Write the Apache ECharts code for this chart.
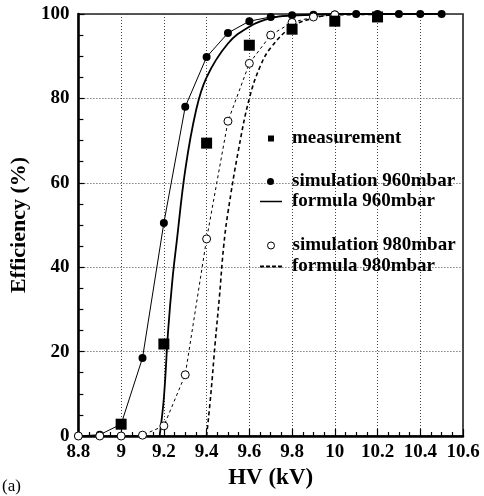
<!DOCTYPE html>
<html>
<head>
<meta charset="utf-8">
<script src="https://cdn.jsdelivr.net/npm/echarts@6/dist/echarts.min.js"></script>
<style>html,body{margin:0;padding:0;background:#fff}#c{width:484px;height:496px}</style>
</head>
<body>
<div id="c"></div>
<script>
// ---- data ----
const xTicks = [8.8, 9, 9.2, 9.4, 9.6, 9.8, 10, 10.2, 10.4, 10.6];
const yTicks = [0, 20, 40, 60, 80, 100];

const measHV  = [9.0, 9.2, 9.4, 9.6, 9.8, 10.0, 10.2];
const measEff = [2.8, 21.8, 69.4, 92.6, 96.4, 98.3, 99.3];

const sim960HV  = [8.8, 8.9, 9.0, 9.1, 9.2, 9.3, 9.4, 9.5, 9.6, 9.7, 9.8, 9.9, 10.0, 10.1, 10.2, 10.3, 10.4, 10.5];
const sim960Eff = [0, 0.3, 2.8, 18.5, 50.5, 78.0, 89.8, 95.5, 98.3, 99.3, 99.7, 99.8, 99.9, 100, 100, 100, 100, 100];

const form960HV  = [9.18, 9.2, 9.22, 9.24, 9.26, 9.3, 9.35, 9.4, 9.5, 9.6, 9.7, 9.8, 10.0, 10.5];
const form960Eff = [0, 9, 25, 37, 46, 63, 77, 85, 93, 97, 99, 99.6, 100, 100];

const sim980HV  = [8.8, 8.9, 9.0, 9.1, 9.2, 9.3, 9.4, 9.5, 9.6, 9.7, 9.8, 9.9, 10.0];
const sim980Eff = [0, 0, 0, 0.2, 2.4, 14.5, 46.7, 74.6, 88.3, 95.0, 98.0, 99.3, 99.8];

const form980HV  = [9.4, 9.42, 9.44, 9.46, 9.48, 9.5, 9.55, 9.6, 9.65, 9.7, 9.8, 9.9, 10.0, 10.5];
const form980Eff = [0, 10, 22, 33, 45, 53, 68, 80, 87.5, 92, 97, 99, 99.8, 100];

const names = ['measurement', 'simulation 960mbar', 'formula 960mbar', 'simulation 980mbar', 'formula 980mbar'];

const pair = (xs, ys) => xs.map((x, i) => [x, ys[i]]);

const FONT = 'Liberation Serif';
const legendText = { fontFamily: FONT, fontWeight: 'bold', fontSize: 19, color: '#000' };

function legendItem(name, top, left, icon, w, h, itemStyle, padLeft) {
  return {
    show: true, selectedMode: false, orient: 'horizontal', padding: 0,
    left: left, top: top, itemWidth: w, itemHeight: h,
    textStyle: Object.assign({}, legendText, { padding: [0, 0, 0, padLeft] }),
    data: [{ name: name, icon: icon, itemStyle: itemStyle }]
  };
}

const chart = echarts.init(document.getElementById('c'), null, { renderer: 'canvas' });
chart.setOption({
  animation: false,
  backgroundColor: '#fff',
  title: {
    text: '(a)', left: 2, top: 478, padding: 0,
    textStyle: { fontFamily: FONT, fontWeight: 'normal', fontSize: 17, color: '#000' }
  },
  grid: {
    left: 77, right: 21, top: 14, bottom: 60,
    show: true, borderColor: '#222', borderWidth: 1.6, backgroundColor: 'transparent'
  },
  legend: [
    legendItem(names[0], 129, 268, 'rect', 6, 6, { color: '#000', opacity: 1 }, 13),
    legendItem(names[1], 172, 267, 'circle', 7, 7, { color: '#000' }, 13),
    legendItem(names[2], 192, 260, 'rect', 22, 1.5, { color: '#000' }, 5),
    legendItem(names[3], 236, 267, 'circle', 7, 7, { color: '#fff', borderColor: '#000', borderWidth: 1 }, 13),
    legendItem(names[4], 257, 260, 'path://M0,0H4V2H0Z M6,0H10V2H6Z M12,0H16V2H12Z M18,0H22V2H18Z', 22, 2, { color: '#000' }, 5)
  ],
  xAxis: {
    type: 'value', min: 8.8, max: 10.6, interval: 0.2,
    name: 'HV (kV)', nameLocation: 'middle', nameGap: 30,
    nameTextStyle: { fontFamily: FONT, fontWeight: 'bold', fontSize: 23, color: '#000' },
    axisLine: { show: true, onZero: false, lineStyle: { color: '#000', width: 2.5 } },
    axisTick: { show: true, inside: true, length: 7, lineStyle: { color: '#000', width: 1.2 } },
    minorTick: { show: true, splitNumber: 4, length: 4, lineStyle: { color: '#000', width: 1.2 } },
    axisLabel: {
      fontFamily: FONT, fontWeight: 'bold', fontSize: 19, color: '#000', margin: 7,
      customValues: xTicks, formatter: v => String(+v.toFixed(1))
    },
    splitLine: { show: true, lineStyle: { color: '#444', width: 1, type: [1, 2] } }
  },
  yAxis: {
    type: 'value', min: 0, max: 100, interval: 20,
    name: 'Efficiency (%)', nameLocation: 'middle', nameGap: 44, nameRotate: 90,
    nameTextStyle: { fontFamily: FONT, fontWeight: 'bold', fontSize: 22, color: '#000' },
    axisLine: { show: true, onZero: false, lineStyle: { color: '#000', width: 2.5 } },
    axisTick: { show: true, inside: true, length: 6, lineStyle: { color: '#000', width: 1.2 } },
    minorTick: { show: true, splitNumber: 4, length: 5, lineStyle: { color: '#000', width: 1.2 } },
    axisLabel: {
      fontFamily: FONT, fontWeight: 'bold', fontSize: 19, color: '#000', margin: 9,
      customValues: yTicks
    },
    splitLine: { show: true, lineStyle: { color: '#444', width: 1, type: [1, 2] } }
  },
  series: [
    {
      name: names[0], type: 'scatter', symbol: 'rect', symbolSize: 11, z: 10,
      itemStyle: { color: '#000', opacity: 1 }, data: pair(measHV, measEff)
    },
    {
      name: names[1], type: 'line', symbol: 'circle', symbolSize: 8, z: 6,
      itemStyle: { color: '#000' }, lineStyle: { color: '#000', width: 1 },
      data: pair(sim960HV, sim960Eff)
    },
    {
      name: names[2], type: 'line', showSymbol: false, smooth: 0.4, z: 4,
      itemStyle: { color: '#000' }, lineStyle: { color: '#000', width: 1.8 },
      data: pair(form960HV, form960Eff)
    },
    {
      name: names[3], type: 'line', symbol: 'circle', symbolSize: 8, z: 6,
      itemStyle: { color: '#fff', borderColor: '#000', borderWidth: 1 },
      lineStyle: { color: '#000', width: 1, type: [3, 3] },
      data: pair(sim980HV, sim980Eff)
    },
    {
      name: names[4], type: 'line', showSymbol: false, smooth: 0.4, z: 4,
      itemStyle: { color: '#000' }, lineStyle: { color: '#000', width: 1.6, type: [4, 3] },
      data: pair(form980HV, form980Eff)
    }
  ]
});
</script>
</body>
</html>
